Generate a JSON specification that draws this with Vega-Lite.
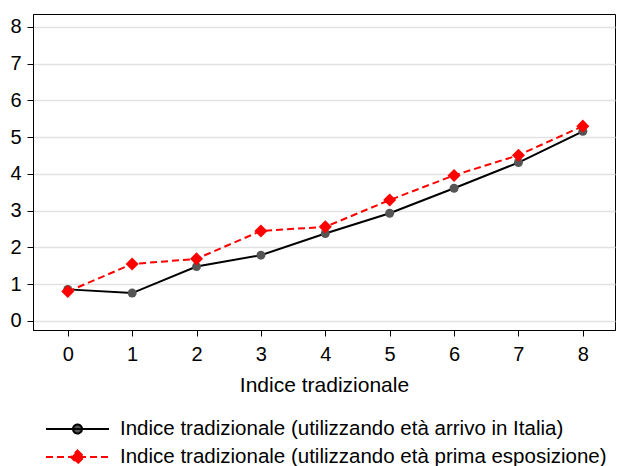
{
  "$schema": "https://vega.github.io/schema/vega-lite/v6.json",
  "width": 582,
  "height": 316,
  "autosize": {"type": "none"},
  "padding": {"left": 33, "top": 14, "right": 3, "bottom": 136},
  "background": "white",
  "config": {
    "view": {"stroke": "black", "strokeWidth": 1},
    "font": "Liberation Sans",
    "axis": {"labelFont": "Liberation Sans", "titleFont": "Liberation Sans", "labelColor": "black", "titleColor": "black", "domainColor": "black", "tickColor": "black", "labelFontSize": 20, "titleFontSize": 21, "titleFontWeight": "normal", "tickSize": 6}
  },
  "data": {
    "values": [
      {"x": 0, "y": 0.86, "serie": "Indice tradizionale (utilizzando età arrivo in Italia)"},
      {"x": 1, "y": 0.76, "serie": "Indice tradizionale (utilizzando età arrivo in Italia)"},
      {"x": 2, "y": 1.48, "serie": "Indice tradizionale (utilizzando età arrivo in Italia)"},
      {"x": 3, "y": 1.79, "serie": "Indice tradizionale (utilizzando età arrivo in Italia)"},
      {"x": 4, "y": 2.38, "serie": "Indice tradizionale (utilizzando età arrivo in Italia)"},
      {"x": 5, "y": 2.93, "serie": "Indice tradizionale (utilizzando età arrivo in Italia)"},
      {"x": 6, "y": 3.61, "serie": "Indice tradizionale (utilizzando età arrivo in Italia)"},
      {"x": 7, "y": 4.31, "serie": "Indice tradizionale (utilizzando età arrivo in Italia)"},
      {"x": 8, "y": 5.16, "serie": "Indice tradizionale (utilizzando età arrivo in Italia)"},
      {"x": 0, "y": 0.80, "serie": "Indice tradizionale (utilizzando età prima esposizione)"},
      {"x": 1, "y": 1.55, "serie": "Indice tradizionale (utilizzando età prima esposizione)"},
      {"x": 2, "y": 1.69, "serie": "Indice tradizionale (utilizzando età prima esposizione)"},
      {"x": 3, "y": 2.45, "serie": "Indice tradizionale (utilizzando età prima esposizione)"},
      {"x": 4, "y": 2.56, "serie": "Indice tradizionale (utilizzando età prima esposizione)"},
      {"x": 5, "y": 3.29, "serie": "Indice tradizionale (utilizzando età prima esposizione)"},
      {"x": 6, "y": 3.96, "serie": "Indice tradizionale (utilizzando età prima esposizione)"},
      {"x": 7, "y": 4.51, "serie": "Indice tradizionale (utilizzando età prima esposizione)"},
      {"x": 8, "y": 5.30, "serie": "Indice tradizionale (utilizzando età prima esposizione)"}
    ]
  },
  "encoding": {
    "x": {
      "field": "x", "type": "quantitative",
      "scale": {"domain": [-0.54, 8.5], "nice": false, "zero": false},
      "axis": {"values": [0,1,2,3,4,5,6,7,8], "title": "Indice tradizionale", "grid": false, "labelPadding": 8, "titlePadding": 10, "domain": true}
    },
    "y": {
      "field": "y", "type": "quantitative",
      "scale": {"domain": [-0.245, 8.35], "nice": false, "zero": false},
      "axis": {"values": [0,1,2,3,4,5,6,7,8], "title": null, "labelPadding": 6, "gridColor": "#e2e2e2", "gridWidth": 1.5,
        "encode": {"grid": {"update": {"opacity": {"signal": "datum.value == 0 || datum.value == 8 ? 0 : 1"}}}}}
    },
    "color": {
      "field": "serie", "type": "nominal",
      "scale": {"domain": ["Indice tradizionale (utilizzando età arrivo in Italia)", "Indice tradizionale (utilizzando età prima esposizione)"], "range": ["black", "red"]},
      "legend": {
        "orient": "none", "legendX": 33.5, "legendY": 404, "title": null,
        "labelFontSize": 20.5, "labelFont": "Liberation Sans", "labelColor": "black", "labelLimit": 0,
        "symbolSize": 400, "rowPadding": 6, "labelOffset": 31.5, "padding": 0,
        "symbolType": "M-3.15,0L3.15,0M0,-0.65L0.65,0L0,0.65L-0.65,0Z",
        "encode": {
          "symbols": {
            "update": {
              "shape": {"signal": "indexof(datum.value, 'arrivo') >= 0 ? 'M-3.15,0L3.15,0M0.45,0A0.45,0.45 0 1,1 -0.45,0A0.45,0.45 0 1,1 0.45,0Z' : 'M-3.15,0L3.15,0M0,-0.65L0.65,0L0,0.65L-0.65,0Z'"},
              "fill": {"signal": "indexof(datum.value, 'arrivo') >= 0 ? '#555555' : 'red'"},
              "stroke": {"signal": "indexof(datum.value, 'arrivo') >= 0 ? 'black' : 'red'"},
              "strokeDash": {"signal": "indexof(datum.value, 'arrivo') >= 0 ? [1,0] : [7,4]"},
              "strokeWidth": {"value": 2},
              "opacity": {"value": 1},
              "fillOpacity": {"value": 1},
              "strokeOpacity": {"value": 1}
            }
          }
        }
      }
    }
  },
  "layer": [
    {
      "transform": [{"filter": "indexof(datum.serie, 'arrivo') >= 0"}],
      "mark": {"type": "line", "strokeWidth": 2}
    },
    {
      "transform": [{"filter": "indexof(datum.serie, 'prima') >= 0"}],
      "mark": {"type": "line", "strokeWidth": 2, "strokeDash": [7, 4]}
    },
    {
      "transform": [{"filter": "indexof(datum.serie, 'arrivo') >= 0"}],
      "mark": {"type": "point", "filled": true, "opacity": 1, "shape": "circle", "size": 80},
      "encoding": {"color": {"value": "#555555"}}
    },
    {
      "transform": [{"filter": "indexof(datum.serie, 'prima') >= 0"}],
      "mark": {"type": "point", "filled": true, "opacity": 1, "shape": "diamond", "size": 170},
      "encoding": {"color": {"value": "red"}}
    }
  ]
}
